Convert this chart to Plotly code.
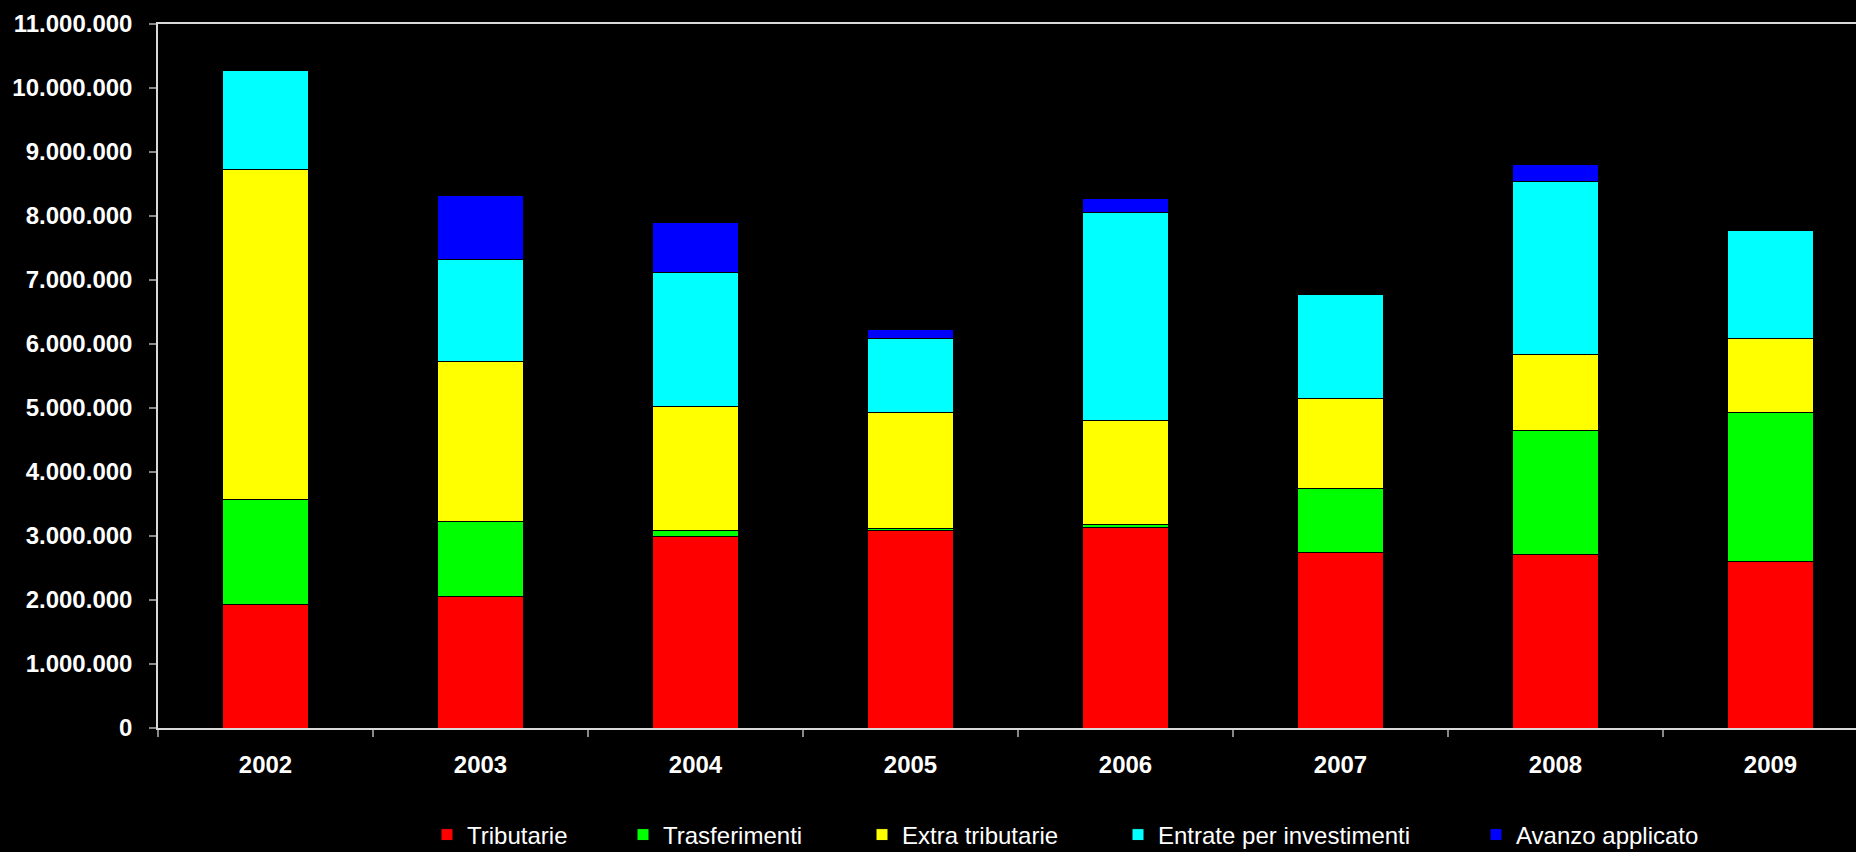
import plotly.graph_objects as go

anni = ["2002", "2003", "2004", "2005", "2006", "2007", "2008", "2009"]
tributarie = [1930000, 2050000, 2990000, 3080000, 3130000, 2740000, 2710000, 2600000]
trasferimenti = [1640000, 1170000, 90000, 40000, 50000, 1010000, 1940000, 2330000]
extra_tributarie = [5150000, 2500000, 1940000, 1810000, 1630000, 1400000, 1190000, 1160000]
entrate_investimenti = [1550000, 1600000, 2100000, 1160000, 3240000, 1630000, 2700000, 1680000]
avanzo_applicato = [0, 1000000, 780000, 140000, 220000, 0, 270000, 0]

serie_nomi = ["Tributarie", "Trasferimenti", "Extra tributarie",
              "Entrate per investimenti", "Avanzo applicato"]
serie_valori = [tributarie, trasferimenti, extra_tributarie,
                entrate_investimenti, avanzo_applicato]
colori = ["#FF0000", "#00FF00", "#FFFF00", "#00FFFF", "#0000FF"]

y_tick_vals = [i * 1000000 for i in range(12)]
y_tick_text = ["0"] + [f"{i}.000.000" for i in range(1, 12)]

W, H = 1856, 852
ML, MT, MB = 158, 24, 124
plot_w = W - ML
plot_h = H - MT - MB

# legend text start positions (pixels)
legend_text_x = [467, 663, 902, 1158, 1516]
legend_y_px = 835

fig = go.Figure()
legend_keys = ["legend", "legend2", "legend3", "legend4", "legend5"]
for nome, vals, col, lk in zip(serie_nomi, serie_valori, colori, legend_keys):
    fig.add_trace(go.Bar(
        x=anni, y=vals, name=nome,
        marker=dict(color=col, line=dict(color="#000000", width=1)),
        legend=lk,
    ))

font_fam = "Arial, Liberation Sans, sans-serif"
layout_legends = {}
for lk, tx in zip(legend_keys, legend_text_x):
    layout_legends[lk] = dict(
        xref="container", yref="container",
        x=(tx - 40) / W,
        xanchor="left",
        y=(H - legend_y_px) / H,
        yanchor="middle",
        orientation="h",
        bgcolor="rgba(0,0,0,0)",
        borderwidth=0,
        font=dict(family=font_fam, size=24, color="#FFFFFF"),
        itemwidth=30,
    )

fig.update_layout(
    width=W, height=H,
    margin=dict(l=ML, r=0, t=MT, b=MB, pad=0, autoexpand=False),
    paper_bgcolor="#000000",
    plot_bgcolor="#000000",
    barmode="stack",
    bargap=0.6,
    showlegend=True,
    font=dict(family=font_fam, color="#FFFFFF"),
    xaxis=dict(
        type="category",
        range=[-0.5, 7.5 - (ML + 8 * 215 - W) / 215],
        showline=True, linecolor="#D9D9D9", linewidth=1.5, mirror=True,
        showgrid=False, zeroline=False,
        ticks="outside", tickson="boundaries", ticklen=7, tickcolor="#888888",
        tickwidth=1.5,
        tickfont=dict(family=font_fam, size=24, color="#FFFFFF", weight="bold"),
        ticklabelstandoff=14,
        fixedrange=True,
    ),
    yaxis=dict(
        range=[0, 11000000],
        tickvals=y_tick_vals, ticktext=y_tick_text,
        showline=True, linecolor="#D9D9D9", linewidth=1.5,
        showgrid=False, zeroline=False,
        ticks="outside", ticklen=7, tickcolor="#888888", tickwidth=1.5,
        tickfont=dict(family=font_fam, size=24, color="#FFFFFF", weight="bold"),
        ticklabelstandoff=12,
        fixedrange=True,
    ),
    **layout_legends,
)

fig.write_html("out.html", config={"displayModeBar": False},
               post_script="document.body.style.margin='0';document.body.style.overflow='hidden';")
